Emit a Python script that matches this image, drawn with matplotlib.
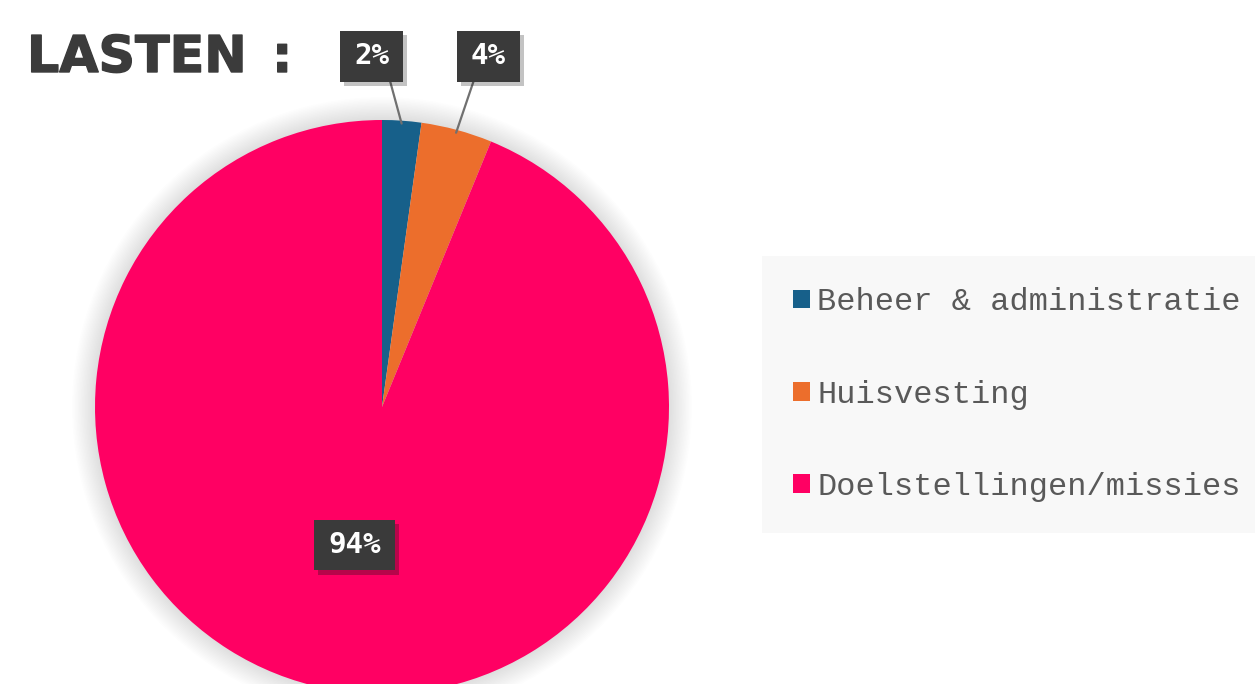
import matplotlib
matplotlib.use("Agg")
import matplotlib.pyplot as plt
from matplotlib.patches import Circle
from matplotlib.font_manager import FontProperties, findfont
import matplotlib.patheffects as pe
import numpy as np

categories = ["Beheer & administratie", "Huisvesting", "Doelstellingen/missies"]
values = [2.2, 4.0, 93.8]
pct_labels = ["2%", "4%", "94%"]
colors = ["#17608a", "#ec6e2c", "#ff0063"]
title = "LASTEN\u2002:"

W, H = 1255, 684
fig = plt.figure(figsize=(W / 100, H / 100), dpi=100)
fig.patch.set_facecolor("white")

# pie axes: centre (382, 407) px, radius 287 px
cx, cy, r = 382, 407, 287
ax = fig.add_axes([(cx - r) / W, (H - cy - r) / H, 2 * r / W, 2 * r / H])
ax.set_xlim(-1, 1)
ax.set_ylim(-1, 1)
ax.axis("off")

# soft shadow around the pie
for i in range(16):
    ax.add_patch(Circle((0, 0), 1.0 + 0.005 * (i + 1), color="#000000",
                        alpha=0.009, lw=0, zorder=0, clip_on=False))

wedges, _ = ax.pie(values, colors=colors, startangle=90, counterclock=False,
                   radius=1.0, wedgeprops=dict(linewidth=0),
                   frame=False)
for w in wedges:
    w.set_clip_on(False)
    w.set_zorder(1)
ax.set_xlim(-1, 1)
ax.set_ylim(-1, 1)

label_font = FontProperties(fname=findfont(FontProperties(family="DejaVu Sans Mono", weight="bold")),
                            size=21)
box_kw = dict(boxstyle="square,pad=0.49", fc="#3a3a3a", ec="none", mutation_aspect=0.8)
txt_kw = dict(fontproperties=label_font, color="white", ha="center", va="center")

# compute wedge mid-angles
cum = np.cumsum([0] + values)
mids = []
for i in range(len(values)):
    a = 90 - 360 * (cum[i] + cum[i + 1]) / 2 / 100
    mids.append(np.deg2rad(a))

# outside labels for the two small slices
text_pos = [(-0.037, 1.222), (0.371, 1.222)]
relpos = [(0.95, 0.0), (0.18, 0.0)]
for i in range(2):
    xy = (np.cos(mids[i]) * 0.99, np.sin(mids[i]) * 0.99)
    t = ax.annotate(pct_labels[i], xy=xy, xytext=text_pos[i],
                    bbox=box_kw, annotation_clip=False, zorder=5,
                    arrowprops=dict(arrowstyle="-", color="#707070", lw=1.6,
                                    relpos=relpos[i], shrinkA=0, shrinkB=0),
                    **txt_kw)
    t.get_bbox_patch().set_path_effects([pe.SimplePatchShadow(offset=(3, -3), alpha=0.25),
                                         pe.Normal()])

# inside label for the big slice
d = 0.49
t = ax.text(np.cos(mids[2]) * d, np.sin(mids[2]) * d, pct_labels[2],
            bbox=box_kw, zorder=5, **txt_kw)
t.get_bbox_patch().set_path_effects([pe.SimplePatchShadow(offset=(3, -3), alpha=0.3),
                                     pe.Normal()])

# title
fig.text(27 / W, 1 - 72 / H, title, fontfamily="DejaVu Sans", fontweight="bold",
         fontsize=36.5, color="#3b3b3b", ha="left", va="baseline",
         path_effects=[pe.withStroke(linewidth=1.0, foreground="#3b3b3b")])

# legend
leg = fig.legend(wedges, categories, loc="upper left",
                 bbox_to_anchor=(762 / W, 1 - 256 / H),
                 prop=dict(family="Liberation Mono", size=23),
                 labelcolor="#595959", frameon=True, fancybox=False,
                 facecolor="#f8f8f8", edgecolor="none", framealpha=1,
                 handlelength=0.53, handleheight=0.53, handletextpad=0.22,
                 labelspacing=1.95, borderpad=0.98, borderaxespad=0)

fig.savefig("out.png", dpi=100, facecolor="white")
